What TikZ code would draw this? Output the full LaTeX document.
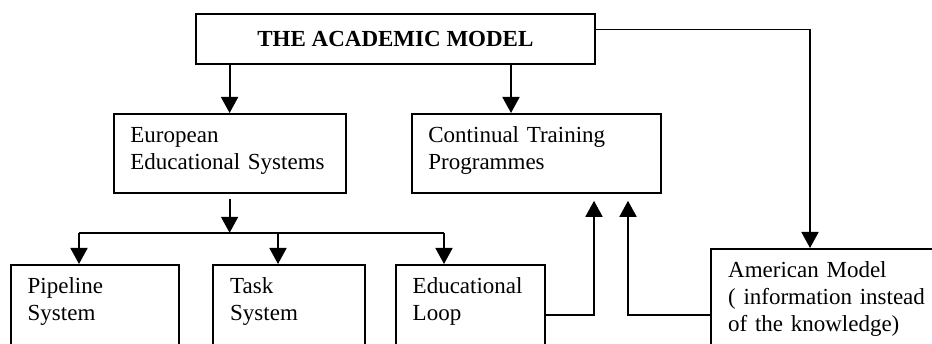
\documentclass[tikz,border=0pt]{standalone}
\usepackage{fontspec}
\setmainfont{Liberation Serif}
\usetikzlibrary{arrows.meta,calc}
\begin{document}
\begin{tikzpicture}[x=1pt,y=-1pt,
  frame/.style={draw, line width=1.8pt, rectangle, anchor=north west, inner sep=0pt},
  lbl/.style={anchor=base west, inner sep=0pt, text width=220pt, align=left, font=\fontsize{23}{27}\selectfont},
  conn/.style={line width=1.8pt, -{Triangle[width=17pt,length=16pt]}},
  bus/.style={line width=1.8pt}
  ]
\useasboundingbox (0,0) rectangle (932,344);
\clip (0,0) rectangle (932,344);
% boxes
\node[frame, minimum width=399pt, minimum height=50pt, font=\fontsize{23}{27}\selectfont\bfseries] (top) at (195,13) {THE ACADEMIC MODEL};
\node[frame, minimum width=232pt, minimum height=79pt] (eur) at (112.7,113) {};
\node[frame, minimum width=249.3pt, minimum height=79pt] (cont) at (410.7,113) {};
\node[frame, minimum width=168pt, minimum height=120pt] (pipe) at (10,264) {};
\node[frame, minimum width=152pt, minimum height=120pt] (task) at (212,264) {};
\node[frame, minimum width=149pt, minimum height=120pt] (edu) at (395,264) {};
\node[frame, minimum width=260pt, minimum height=140pt] (amer) at (710,248) {};
% texts
\node[lbl] (eurt) at ($(eur.north west)+(17.5,30)$) {European\\Educational Systems};
\node[lbl] (contt) at ($(cont.north west)+(17.5,30)$) {Continual Training\\Programmes};
\node[lbl] (pipet) at ($(pipe.north west)+(17.5,30)$) {Pipeline\\System};
\node[lbl] (taskt) at ($(task.north west)+(18,30)$) {Task\\System};
\node[lbl] (edut) at ($(edu.north west)+(17.5,30)$) {Educational\\Loop};
\node[lbl] (amert) at ($(amer.north west)+(18,30)$) {American Model\\( information instead\\of the knowledge)};
% connector points
\coordinate (ca) at ($(cont.north west)+(100.3,0)$);
\coordinate (aa) at ($(amer.north west)+(100,0)$);
\coordinate (eb) at ($(eur.south)+(0,5)$);
\coordinate (busc) at ($(eur.south)+(0,39)$);
\coordinate (pa) at ($(pipe.north west)+(69,0)$);
\coordinate (ta) at ($(task.north west)+(66,0)$);
\coordinate (ea) at ($(edu.north west)+(49,0)$);
\coordinate (c1) at ($(cont.south west)+(183.3,7)$);
\coordinate (c2) at ($(cont.south west)+(217.3,7)$);
% connectors
\draw[conn] (top.south -| eur.north) -- (eur.north);
\draw[conn] (top.south -| ca) -- (ca);
\draw[conn] ($(top.north east)+(0,16.5)$) -| (aa);
\draw[conn] (eb) -- (busc);
\draw[bus] (pa |- busc) -- (ea |- busc);
\draw[conn] (pa |- busc) -- (pa);
\draw[conn] (ta |- busc) -- (ta);
\draw[conn] (ea |- busc) -- (ea);
\draw[conn] ($(edu.north east)+(0,51)$) -| (c1);
\draw[conn] ($(amer.north west)+(0,67)$) -| (c2);
\end{tikzpicture}
\end{document}
